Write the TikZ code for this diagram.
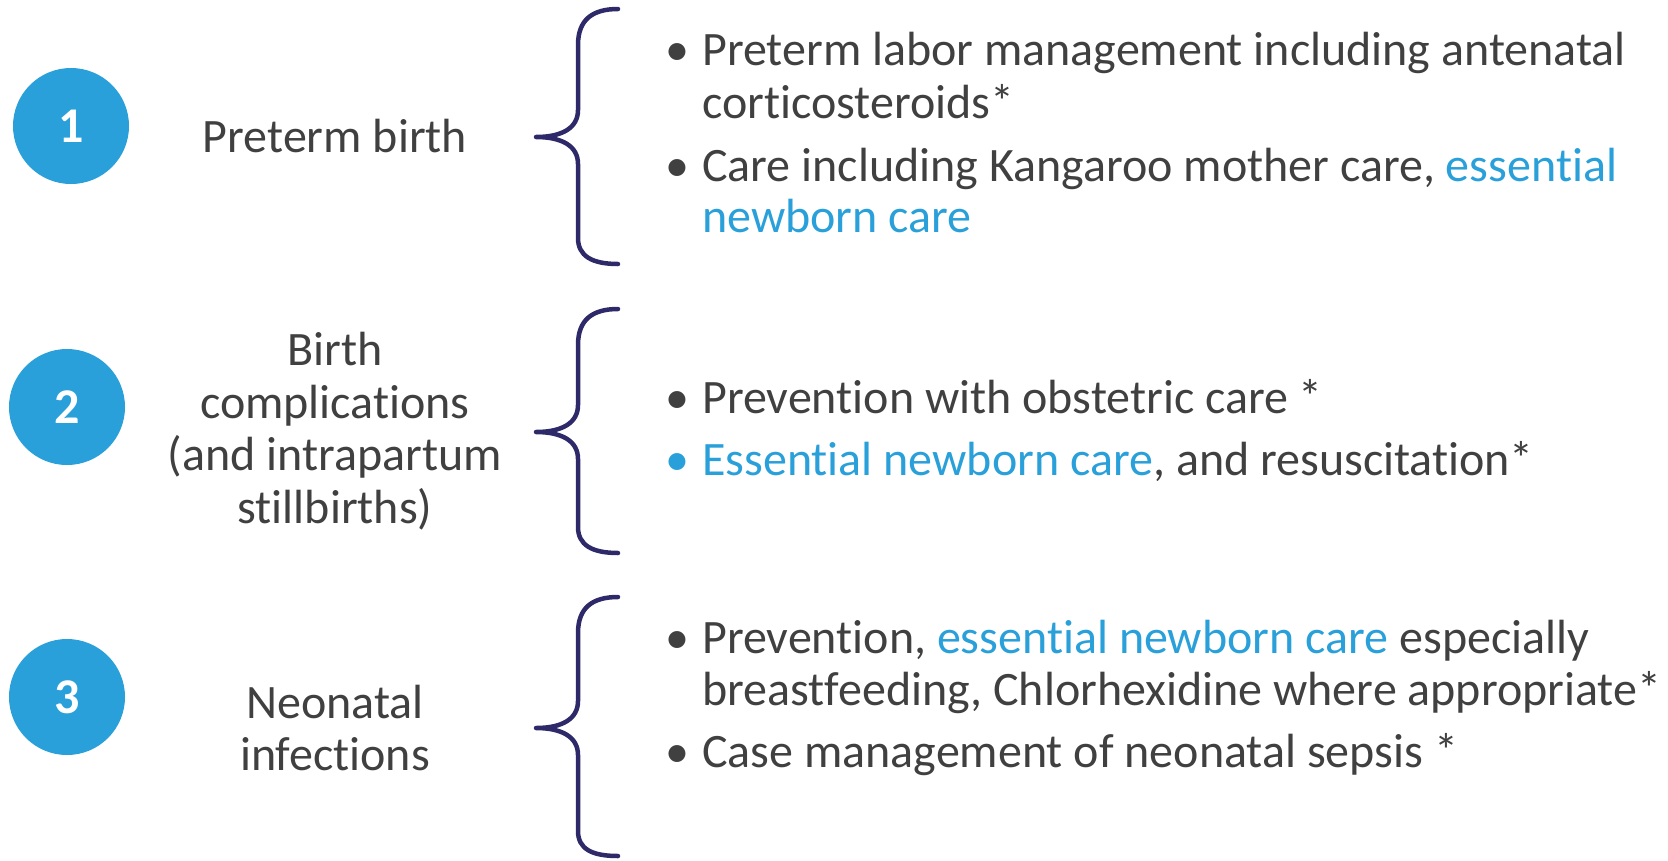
\documentclass[tikz,border=0pt]{standalone}
\usepackage{fontspec}
\setmainfont{Carlito}[Ligatures=NoCommon]
\definecolor{cblue}{HTML}{29A0DA}
\definecolor{ctext}{HTML}{404040}
\definecolor{cbrace}{HTML}{2E2A6A}
\begin{document}
\begin{tikzpicture}[x=1pt,y=-1pt,
  num/.style={circle,fill=cblue,minimum size=116pt,inner sep=0pt,text=white,font=\fontsize{50}{60}\selectfont\bfseries},
  lbl/.style={inner sep=0pt,text=ctext,align=center,font=\fontsize{48}{52.5}\selectfont},
  btext/.style={anchor=mid west,inner sep=0pt,text=ctext,font=\fontsize{48}{52}\selectfont},
  bdot/.style={anchor=mid,inner sep=0pt,text=ctext,font=\fontsize{48}{52}\selectfont},
  curly/.style={draw=cbrace,line width=4.5pt,line cap=round,line join=round}]
\useasboundingbox (0,0) rectangle (1668,860);
% circles
\node[num] (c1) at (71,126) {1};
\node[num] (c2) at (67,407) {2};
\node[num] (c3) at (67,697) {3};
% labels
\node[lbl] (l1) at (335,136) {Preterm birth};
\node[lbl] (l2) at (335,431) {Birth\\complications\\(and intrapartum\\stillbirths)};
\node[lbl] (l3) at (335,728) {Neonatal\\infections};
% braces
\draw[curly] (618,9) .. controls (592,9) and (578,20) .. (578,45) -- (578,110) .. controls (578,128) and (562,137) .. (536,137) .. controls (562,137) and (578,146) .. (578,164) -- (578,238) .. controls (578,256) and (592,264) .. (618,264);
\draw[curly] (618,309) .. controls (592,309) and (578,320) .. (578,345) -- (578,405) .. controls (578,423) and (562,432) .. (536,432) .. controls (562,432) and (578,441) .. (578,459) -- (578,527) .. controls (578,545) and (592,553) .. (618,553);
\draw[curly] (618,597) .. controls (592,597) and (578,608) .. (578,633) -- (578,701) .. controls (578,719) and (562,728) .. (536,728) .. controls (562,728) and (578,737) .. (578,755) -- (578,831) .. controls (578,849) and (592,856) .. (618,856);
% block 1
\node[bdot] (d11) at (677,63) {•};
\node[btext] (t11) at (702,63) {Preterm labor management including antenatal};
\node[btext] (t12) at (702,116) {corticosteroids*};
\node[bdot] (d12) at (677,179) {•};
\node[btext] (t13) at (702,179) {Care including Kangaroo mother care, \textcolor{cblue}{essential}};
\node[btext,text=cblue] (t14) at (702,230) {newborn care};
% block 2
\node[bdot] (d21) at (677,411) {•};
\node[btext] (t21) at (702,411) {Prevention with obstetric care *};
\node[bdot,text=cblue] (d22) at (677,473) {•};
\node[btext] (t22) at (702,473) {\textcolor{cblue}{Essential newborn care}, and resuscitation*};
% block 3
\node[bdot] (d31) at (677,651) {•};
\node[btext] (t31) at (702,651) {Prevention, \textcolor{cblue}{essential newborn care} especially};
\node[btext] (t32) at (702,703) {breastfeeding, Chlorhexidine where appropriate*};
\node[bdot] (d32) at (677,765) {•};
\node[btext] (t33) at (702,765) {Case management of neonatal sepsis *};
\end{tikzpicture}
\end{document}
